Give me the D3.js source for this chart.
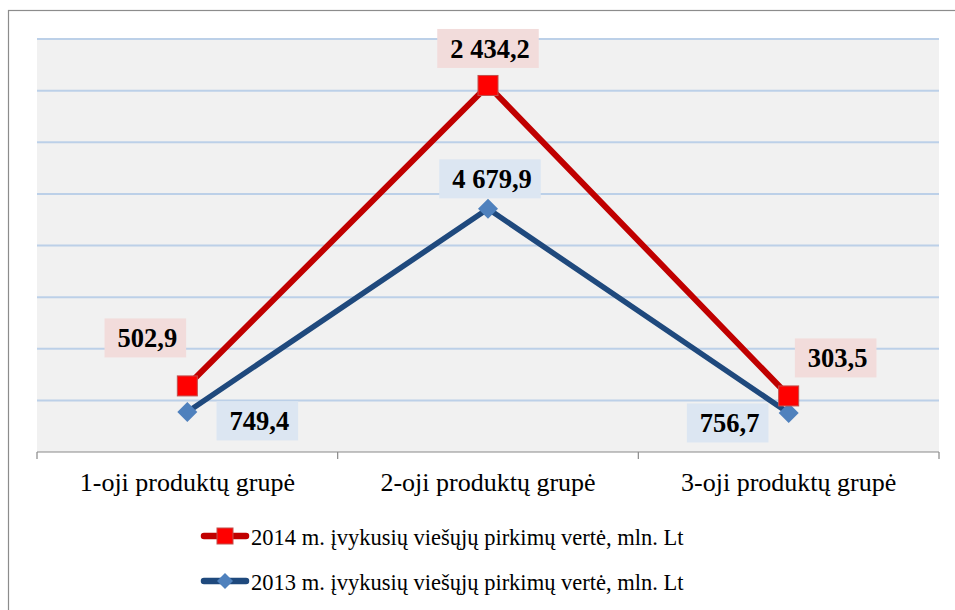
<!DOCTYPE html>
<html>
<head>
<meta charset="utf-8">
<script src="https://cdn.jsdelivr.net/npm/d3@7"></script>
<style>
  body { margin: 0; background: #fff; }
  svg text { font-family: "Liberation Serif", "Times New Roman", serif; }
</style>
</head>
<body>
<div id="chart"></div>
<script>
// chart data
const categories = ["1-oji produktų grupė", "2-oji produktų grupė", "3-oji produktų grupė"];
const values2014 = [640, 3550, 543];   // plotted height of the 2014 points
const values2013 = [388, 2355, 378];   // plotted height of the 2013 points
const labels2014 = ["502,9", "2 434,2", "303,5"];
const labels2013 = ["749,4", "4 679,9", "756,7"];
const legendNames = [
  "2014 m. įvykusių viešųjų pirkimų vertė, mln. Lt",
  "2013 m. įvykusių viešųjų pirkimų vertė, mln. Lt"
];

const width = 955;
const height = 610;
const margin = { top: 39, left: 37, right: 16, bottom: 158 };

const svg = d3.select("#chart").append("svg")
  .attr("width", width)
  .attr("height", height);

// outer frame
svg.append("rect")
  .attr("x", 8.5).attr("y", 10.5)
  .attr("width", 960).attr("height", 620)
  .attr("fill", "#fff")
  .attr("stroke", "#8c8c8c")
  .attr("stroke-width", 1.2);

const x = d3.scaleBand()
  .domain(categories)
  .range([margin.left, width - margin.right])
  .padding(0);

const y = d3.scaleLinear()
  .domain([0, 4000])
  .range([height - margin.bottom, margin.top]);

// plot area
svg.append("rect")
  .attr("x", margin.left)
  .attr("y", margin.top)
  .attr("width", width - margin.left - margin.right)
  .attr("height", height - margin.top - margin.bottom)
  .attr("fill", "#f1f1f1");

// gridlines
svg.append("g")
  .selectAll("line")
  .data(y.ticks(8).filter(d => d > 0))
  .join("line")
  .attr("x1", margin.left)
  .attr("x2", width - margin.right)
  .attr("y1", d => y(d))
  .attr("y2", d => y(d))
  .attr("stroke", "#bcd0e8")
  .attr("stroke-width", 2);

// x axis
const xAxis = svg.append("g")
  .attr("transform", `translate(0,${y(0)})`);
xAxis.append("line")
  .attr("x1", margin.left).attr("x2", width - margin.right)
  .attr("stroke", "#898989").attr("stroke-width", 1.2);
xAxis.selectAll("line.tick")
  .data(categories.map(c => x(c)).concat([x(categories[2]) + x.bandwidth()]))
  .join("line")
  .attr("class", "tick")
  .attr("x1", d => d).attr("x2", d => d)
  .attr("y1", 0).attr("y2", 7)
  .attr("stroke", "#898989").attr("stroke-width", 1.2);
xAxis.selectAll("text")
  .data(categories)
  .join("text")
  .attr("x", d => x(d) + x.bandwidth() / 2)
  .attr("y", 39)
  .attr("text-anchor", "middle")
  .attr("font-size", 26)
  .attr("fill", "#000")
  .text(d => d);

const cx = d => x(d) + x.bandwidth() / 2;

const series = [
  { values: values2014, labels: labels2014, line: "#c00000", lw: 6, marker: "square",
    box: "#f2dcdb", offsets: [[-42, -48], [0, -37], [47, -38]] },
  { values: values2013, labels: labels2013, line: "#1f497d", lw: 5.5, marker: "diamond",
    box: "#dce6f2", offsets: [[70, 9], [2, -30], [-61, 10]] }
];

function drawMarker(g, type, size) {
  if (type === "square") {
    g.append("rect")
      .attr("x", -size / 2).attr("y", -size / 2)
      .attr("width", size).attr("height", size)
      .attr("fill", "#ff0000")
      .attr("stroke", "#c0504d").attr("stroke-width", 1);
  } else {
    const h = size / 2;
    g.append("path")
      .attr("d", `M0,${-h}L${h},0L0,${h}L${-h},0Z`)
      .attr("fill", "#4f81bd");
  }
}

// draw blue first so red sits on top
series.slice().reverse().forEach(s => {
  const pts = categories.map((c, i) => [cx(c), y(s.values[i])]);
  svg.append("path")
    .attr("d", d3.line()(pts))
    .attr("fill", "none")
    .attr("stroke", s.line)
    .attr("stroke-width", s.lw)
    .attr("stroke-linejoin", "round");
  pts.forEach(p => {
    const g = svg.append("g").attr("transform", `translate(${p[0]},${p[1]})`);
    drawMarker(g, s.marker, 20);
  });
});

// data labels
series.forEach(s => {
  categories.forEach((c, i) => {
    const bx = cx(c) + s.offsets[i][0];
    const by = y(s.values[i]) + s.offsets[i][1];
    const g = svg.append("g");
    const t = g.append("text")
      .attr("x", bx + 2)
      .attr("y", by + 9.5)
      .attr("text-anchor", "middle")
      .attr("font-size", 26.5)
      .attr("font-weight", "bold")
      .text(s.labels[i]);
    const w = t.node().getComputedTextLength() + 22;
    g.insert("rect", "text")
      .attr("x", bx - w / 2)
      .attr("y", by - 19.5)
      .attr("width", w)
      .attr("height", 39)
      .attr("fill", s.box);
  });
});

// legend
const legend = svg.append("g");
series.forEach((s, i) => {
  const ly = 536 + i * 45;
  legend.append("line")
    .attr("x1", 204).attr("x2", 246)
    .attr("y1", ly).attr("y2", ly)
    .attr("stroke", s.line)
    .attr("stroke-width", 6.5)
    .attr("stroke-linecap", "round");
  drawMarker(legend.append("g").attr("transform", `translate(225,${ly})`), s.marker, 16);
  legend.append("text")
    .attr("x", 251)
    .attr("y", ly + 8.5)
    .attr("font-size", 22.5)
    .text(legendNames[i]);
});
</script>
</body>
</html>
